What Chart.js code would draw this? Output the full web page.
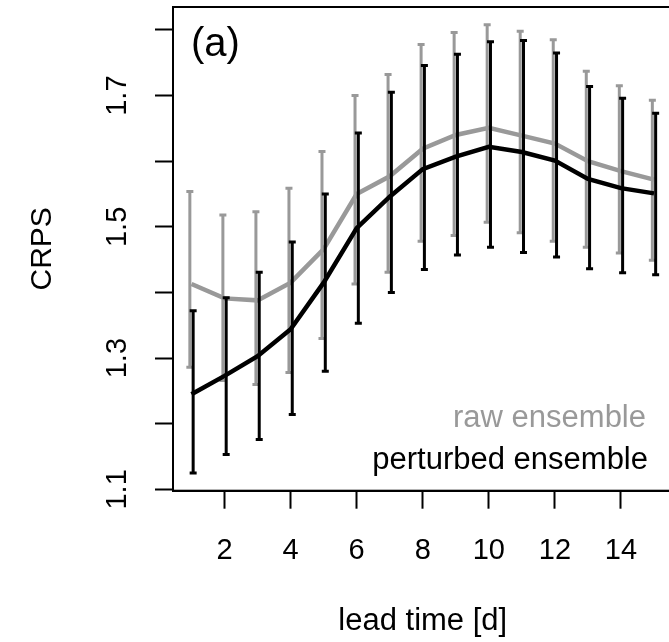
<!DOCTYPE html>
<html>
<head>
<meta charset="utf-8">
<script src="https://cdn.jsdelivr.net/npm/chart.js@4"></script>
<style>
  html, body { margin: 0; padding: 0; overflow: hidden; background: #fff; }
  canvas { display: block; }
</style>
</head>
<body>
<canvas id="crps-chart" width="700" height="642"></canvas>
<script>
// lead time in days
const leadTimes = [1, 2, 3, 4, 5, 6, 7, 8, 9, 10, 11, 12, 13, 14, 15];

// raw ensemble: mean CRPS and interval ends
const rawMean = [1.413, 1.391, 1.388, 1.415, 1.466, 1.550, 1.577, 1.619, 1.640, 1.651, 1.639, 1.627, 1.600, 1.585, 1.572];
const rawLow  = [1.286, 1.266, 1.260, 1.278, 1.330, 1.413, 1.431, 1.478, 1.487, 1.507, 1.491, 1.478, 1.469, 1.460, 1.449];
const rawHigh = [1.554, 1.518, 1.523, 1.559, 1.615, 1.700, 1.732, 1.778, 1.796, 1.808, 1.798, 1.785, 1.737, 1.715, 1.693];

// perturbed ensemble
const pertMean = [1.245, 1.273, 1.303, 1.344, 1.415, 1.498, 1.546, 1.588, 1.607, 1.622, 1.614, 1.601, 1.573, 1.559, 1.551];
const pertLow  = [1.125, 1.153, 1.176, 1.214, 1.280, 1.353, 1.400, 1.435, 1.457, 1.469, 1.461, 1.454, 1.436, 1.430, 1.427];
const pertHigh = [1.372, 1.392, 1.431, 1.477, 1.550, 1.643, 1.705, 1.746, 1.763, 1.782, 1.784, 1.765, 1.714, 1.696, 1.673];

// axis ticks
const xTicks = [2, 4, 6, 8, 10, 12, 14];
const yTicks = [1.1, 1.2, 1.3, 1.4, 1.5, 1.6, 1.7, 1.8];
const yTickLabels = ["1.1", "", "1.3", "", "1.5", "", "1.7", ""];

const seriesNames = ["perturbed ensemble", "raw ensemble"];
const panelLabel = "(a)";

const GRAY = "#999999";
const FONT = "'Liberation Sans', Arial, sans-serif";

const toPoints = (ys) => leadTimes.map((x, i) => ({x: x, y: ys[i]}));

// error bars are drawn just before each line, using the chart's scales
const errorBarPlugin = {
    id: "errorBars",
    beforeDatasetDraw(chart, args) {
        const ds = chart.data.datasets[args.index];
        if (!ds.errLow) return;
        const xs = chart.scales.x;
        const ys = chart.scales.y;
        const ctx = chart.ctx;
        ctx.save();
        ctx.strokeStyle = ds.borderColor;
        ctx.lineWidth = 3;
        ctx.lineCap = "butt";
        leadTimes.forEach((t, i) => {
            const px = xs.getPixelForValue(t + ds.errShift);
            const lo = ys.getPixelForValue(ds.errLow[i]);
            const hi = ys.getPixelForValue(ds.errHigh[i]);
            ctx.beginPath();
            ctx.moveTo(px, lo);
            ctx.lineTo(px, hi);
            ctx.moveTo(px - 3.5, lo);
            ctx.lineTo(px + 3.5, lo);
            ctx.moveTo(px - 3.5, hi);
            ctx.lineTo(px + 3.5, hi);
            ctx.stroke();
        });
        ctx.restore();
    }
};

// box round the plot, panel label and the text legend
const boxPlugin = {
    id: "boxAndText",
    afterDraw(chart) {
        const a = chart.chartArea;
        const ctx = chart.ctx;
        ctx.save();
        ctx.strokeStyle = "#000";
        ctx.lineWidth = 2;
        ctx.strokeRect(a.left, a.top, a.right - a.left, a.bottom - a.top);

        ctx.fillStyle = "#000";
        ctx.font = "40px " + FONT;
        ctx.textAlign = "left";
        ctx.textBaseline = "middle";
        ctx.fillText(panelLabel, a.left + 18, a.top + 38);

        ctx.font = "31px " + FONT;
        ctx.textAlign = "right";
        ctx.fillStyle = GRAY;
        ctx.fillText(seriesNames[1], 646, 418);
        ctx.fillStyle = "#000";
        ctx.fillText(seriesNames[0], 648, 460);
        ctx.restore();
    }
};

new Chart("crps-chart", {
    type: "line",
    data: {
        datasets: [{
            label: seriesNames[0],
            data: toPoints(pertMean),
            errLow: pertLow,
            errHigh: pertHigh,
            errShift: 0.05,
            borderColor: "#000",
            borderWidth: 4.5,
            pointRadius: 0,
            tension: 0
        }, {
            label: seriesNames[1],
            data: toPoints(rawMean),
            errLow: rawLow,
            errHigh: rawHigh,
            errShift: -0.05,
            borderColor: GRAY,
            borderWidth: 4.5,
            pointRadius: 0,
            tension: 0
        }]
    },
    options: {
        responsive: false,
        animation: false,
        devicePixelRatio: 1,
        layout: {padding: {top: 7, right: 27.5, left: 0, bottom: 0}},
        plugins: {
            legend: {display: false},
            tooltip: {enabled: false}
        },
        scales: {
            x: {
                type: "linear",
                min: 0.44,
                max: 15.56,
                afterBuildTicks: (scale) => { scale.ticks = xTicks.map(v => ({value: v})); },
                afterFit: (scale) => {
                    scale.height = 151.3;
                    scale.paddingLeft = 0;
                    scale.paddingRight = 0;
                },
                grid: {drawOnChartArea: false, drawTicks: true, tickLength: 18, tickWidth: 2, tickColor: "#000"},
                border: {display: true, color: "#000", width: 2},
                ticks: {
                    color: "#000",
                    padding: 25,
                    maxRotation: 0,
                    font: {family: FONT, size: 29},
                    callback: (v) => String(v)
                },
                title: {
                    display: true,
                    text: "lead time [d]",
                    color: "#000",
                    font: {family: FONT, size: 31},
                    padding: {top: 0, bottom: 2}
                }
            },
            y: {
                type: "linear",
                min: 1.098,
                max: 1.835,
                afterBuildTicks: (scale) => { scale.ticks = yTicks.map(v => ({value: v})); },
                afterFit: (scale) => {
                    scale.width = 173;
                    scale.paddingTop = 0;
                    scale.paddingBottom = 0;
                },
                grid: {drawOnChartArea: false, drawTicks: true, tickLength: 18, tickWidth: 2, tickColor: "#000"},
                border: {display: true, color: "#000", width: 2},
                ticks: {
                    color: "#000",
                    padding: 17,
                    minRotation: 90,
                    maxRotation: 90,
                    crossAlign: "center",
                    font: {family: FONT, size: 29},
                    callback: (v, i) => yTickLabels[i]
                },
                title: {
                    display: true,
                    text: "CRPS",
                    color: "#000",
                    font: {family: FONT, size: 30},
                    padding: {top: 25, bottom: 0}
                }
            }
        }
    },
    plugins: [errorBarPlugin, boxPlugin]
});
</script>
</body>
</html>
